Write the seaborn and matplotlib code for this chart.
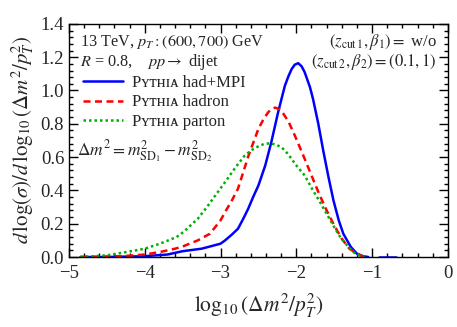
import numpy as np
import pandas as pd
import matplotlib
matplotlib.use("Agg")
import matplotlib.pyplot as plt
import seaborn as sns
from matplotlib.ticker import MultipleLocator, AutoMinorLocator

# 数据
x_mpi = [-4.85, -4.5, -4.0, -3.7, -3.5, -3.25, -3.0, -2.94, -2.85, -2.77, -2.7, -2.635,
         -2.57, -2.5, -2.41, -2.33, -2.24, -2.15, -2.1, -2.06, -2.02, -1.975, -1.93,
         -1.89, -1.82, -1.78, -1.71, -1.645, -1.58, -1.51, -1.44, -1.38, -1.28, -1.2,
         -1.12, -1.05]
y_mpi = [0.0, 0.0, 0.005, 0.015, 0.035, 0.05, 0.08, 0.10, 0.135, 0.17, 0.23, 0.29,
         0.36, 0.43, 0.55, 0.69, 0.87, 1.03, 1.09, 1.13, 1.155, 1.164, 1.145,
         1.11, 1.02, 0.95, 0.80, 0.64, 0.49, 0.34, 0.22, 0.14, 0.06, 0.02,
         0.005, 0.0]
x_mpi_tail = [-0.91, -0.69]
y_mpi_tail = [0.0, 0.0]

x_had = [-4.85, -4.3, -4.0, -3.8, -3.6, -3.49, -3.3, -3.14, -3.0, -2.94, -2.85, -2.77,
         -2.7, -2.63, -2.5, -2.43, -2.37, -2.32, -2.28, -2.23, -2.17, -2.1, -2.02,
         -1.89, -1.8, -1.7, -1.6, -1.5, -1.4, -1.3, -1.2, -1.1]
y_had = [0.0, 0.005, 0.015, 0.03, 0.05, 0.065, 0.10, 0.14, 0.22, 0.27, 0.34, 0.41,
         0.51, 0.61, 0.77, 0.83, 0.87, 0.89, 0.897, 0.89, 0.86, 0.81, 0.73,
         0.59, 0.49, 0.38, 0.28, 0.19, 0.11, 0.05, 0.02, 0.0]

x_par = [-4.85, -4.5, -4.24, -4.0, -3.8, -3.58, -3.49, -3.3, -3.18, -2.94, -2.8, -2.68,
         -2.58, -2.5, -2.43, -2.35, -2.27, -2.2, -2.15, -2.08, -2.0, -1.89, -1.78, -1.7,
         -1.6, -1.5, -1.42, -1.33, -1.25, -1.15, -1.1]
y_par = [0.0, 0.01, 0.03, 0.05, 0.08, 0.12, 0.15, 0.23, 0.30, 0.45, 0.54, 0.61,
         0.645, 0.665, 0.678, 0.683, 0.675, 0.66, 0.64, 0.60, 0.55, 0.49, 0.40, 0.34,
         0.26, 0.18, 0.12, 0.07, 0.03, 0.005, 0.0]

labels = ["P\u028f\u1d1b\u029c\u026a\u1d00 had+MPI",
          "P\u028f\u1d1b\u029c\u026a\u1d00 hadron",
          "P\u028f\u1d1b\u029c\u026a\u1d00 parton"]

sns.set_style("ticks")
plt.rcParams['font.family'] = ['Liberation Serif', 'DejaVu Serif']
plt.rcParams['mathtext.fontset'] = 'stix'
plt.rcParams['xtick.direction'] = 'in'
plt.rcParams['ytick.direction'] = 'in'

fig = plt.figure(figsize=(4.57, 3.27), dpi=100)
ax = fig.add_axes([0.151, 0.214, 0.829, 0.713])

sns.lineplot(x=x_mpi, y=y_mpi, ax=ax, color='#0000ff', lw=1.8, label=labels[0])
sns.lineplot(x=x_mpi_tail, y=y_mpi_tail, ax=ax, color='#0000ff', lw=1.8)
sns.lineplot(x=x_had, y=y_had, ax=ax, color='#ff0000', lw=1.8, label=labels[1])
sns.lineplot(x=x_par, y=y_par, ax=ax, color='#00b000', lw=1.8, label=labels[2])
ax.lines[2].set_linestyle((0, (2.8, 1.8)))
ax.lines[3].set_linestyle((0, (1.0, 1.2)))

ax.set_xlim(-5, 0)
ax.set_ylim(0, 1.4)
ax.xaxis.set_major_locator(MultipleLocator(1))
ax.xaxis.set_minor_locator(AutoMinorLocator(5))
ax.yaxis.set_major_locator(MultipleLocator(0.2))
ax.yaxis.set_minor_locator(AutoMinorLocator(5))
ax.yaxis.set_major_formatter(plt.FormatStrFormatter('%.1f'))
ax.xaxis.set_major_formatter(plt.FuncFormatter(lambda v, p: '%d' % v if v == 0 else '\u2212%d' % -v))
ax.tick_params(which='both', top=True, right=True, labelsize=13.5, width=1, color='black')
ax.tick_params(which='major', length=6.5)
ax.tick_params(which='minor', length=3)
ax.tick_params(axis='x', pad=6)
for s in ax.spines.values():
    s.set_linewidth(1)
    s.set_color('black')

ax.set_xlabel(r'$\log_{10}(\Delta m^2/p_T^2)$', fontsize=15.5)
ax.set_ylabel(r'$d\,\log(\sigma)/d\,\log_{10}(\Delta m^2/p_T^2)$', fontsize=15)
ax.xaxis.set_label_coords(0.5, -0.15)
ax.yaxis.set_label_coords(-0.088, 0.5)

ax.text(0.03, 0.923, r'13 TeV, $p_T:(600,700)$ GeV', transform=ax.transAxes,
        fontsize=11.7, va='center')
ax.text(0.03, 0.837, r'$R$ = 0.8,    $pp\rightarrow$ dijet', transform=ax.transAxes,
        fontsize=11.7, va='center')
ax.text(0.971, 0.923, r'$(z_{\mathrm{cut}\,1},\beta_1) = $ w/o', transform=ax.transAxes,
        fontsize=12, ha='right', va='center')
ax.text(0.971, 0.837, r'$(z_{\mathrm{cut}\,2},\beta_2) = (0.1,1)$', transform=ax.transAxes,
        fontsize=12, ha='right', va='center')
ax.text(0.022, 0.45, r'$\Delta m^2 = m^2_{\mathrm{SD}_1} - m^2_{\mathrm{SD}_2}$',
        transform=ax.transAxes, fontsize=12.5, va='center')

leg = ax.legend(loc='upper left', bbox_to_anchor=(0.037, 0.782), frameon=False, fontsize=12,
                handlelength=2.4, handletextpad=0.55, labelspacing=0.22,
                borderaxespad=0.0, borderpad=0.0)

plt.savefig('out.png', dpi=100)
